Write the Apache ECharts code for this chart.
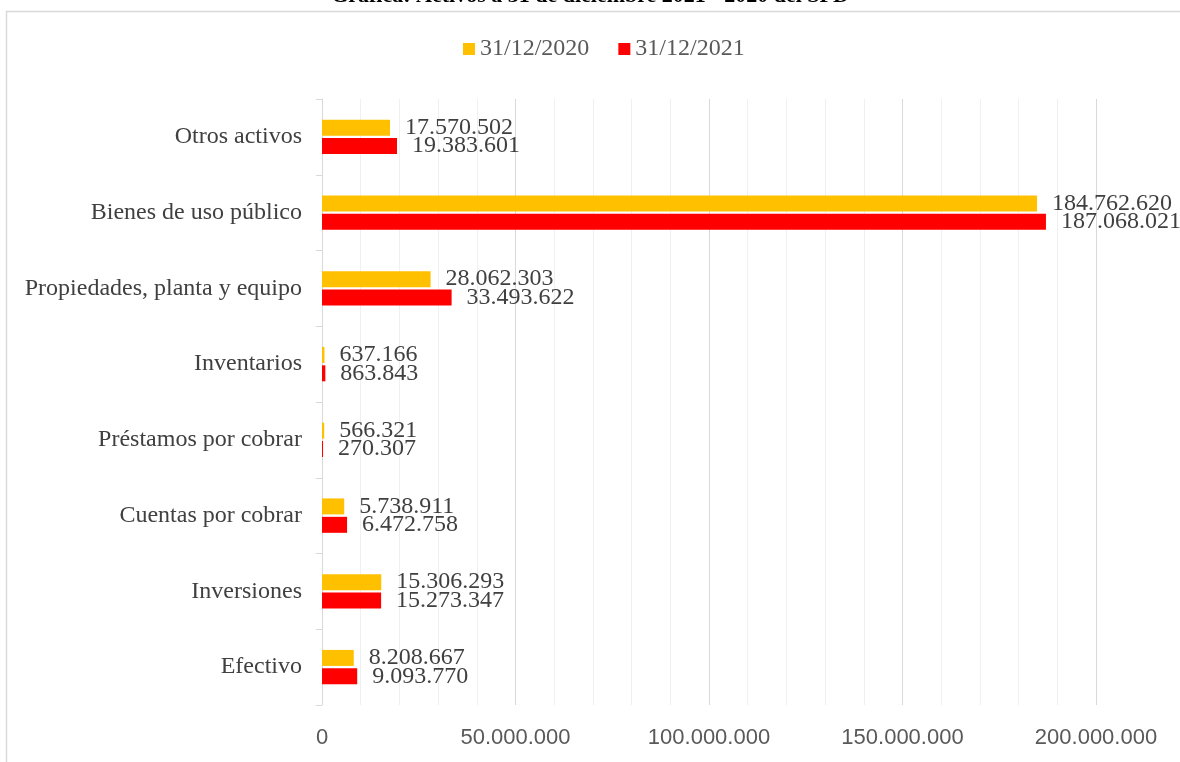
<!DOCTYPE html>
<html><head><meta charset="utf-8">
<script src="https://cdn.jsdelivr.net/npm/echarts@6/dist/echarts.min.js"></script>
<style>html,body{margin:0;padding:0;background:#fff}#c{width:1180px;height:762px}</style>
</head><body><div id="c"></div>
<script>
const categories = ['Efectivo','Inversiones','Cuentas por cobrar','Préstamos por cobrar','Inventarios','Propiedades, planta y equipo','Bienes de uso público','Otros activos'];
const seriesNames = ['31/12/2020','31/12/2021'];
const values2020 = [8208667,15306293,5738911,566321,637166,28062303,184762620,17570502];
const values2021 = [9093770,15273347,6472758,270307,863843,33493622,187068021,19383601];
const titleText = 'Gráfica: Activos a 31 de diciembre 2021 - 2020 del SPD';

function fmt(n){return String(n).replace(/\B(?=(\d{3})+(?!\d))/g,'.');}
const serif = '"Liberation Serif","Times New Roman",serif';
const chart = echarts.init(document.getElementById('c'));
const labelCfg = {show:true,position:'right',distance:15,fontFamily:serif,fontSize:24,color:'#404040',formatter:p=>fmt(p.value)};
chart.setOption({
  animation:false,
  title:{text:titleText,left:'center',top:-20,textStyle:{fontFamily:serif,fontSize:22,fontWeight:'bold',color:'#000'}},
  graphic:[{type:'rect',shape:{x:6.5,y:11.5,width:1300,height:900},style:{fill:'none',stroke:'#d9d9d9',lineWidth:1.5},z:-1}],
  legend:{data:seriesNames,top:32,left:458,itemWidth:12,itemHeight:12,itemGap:29,icon:'rect',
    textStyle:{fontFamily:serif,fontSize:24,color:'#595959'}},
  grid:{left:322,right:84,top:99,bottom:57},
  xAxis:{type:'value',min:0,max:200000000,interval:50000000,
    axisLine:{show:false},axisTick:{show:false},
    axisLabel:{margin:22,fontFamily:'"Liberation Sans",Arial,sans-serif',fontSize:22,color:'#595959',formatter:v=>fmt(v)},
    splitLine:{show:true,lineStyle:{color:'#d9d9d9',width:1}},
    minorTick:{show:false,splitNumber:5},
    minorSplitLine:{show:true,lineStyle:{color:'#f0f0f0',width:1}}},
  yAxis:{type:'category',data:categories,
    axisLine:{show:true,lineStyle:{color:'#d9d9d9',width:1}},
    axisTick:{show:true,length:6,lineStyle:{color:'#d9d9d9'}},
    axisLabel:{margin:20,fontFamily:serif,fontSize:24,color:'#404040'}},
  series:[
    {name:seriesNames[0],type:'bar',data:values2020,barWidth:16,barGap:'15%',itemStyle:{color:'#FFC000'},label:labelCfg},
    {name:seriesNames[1],type:'bar',data:values2021,barWidth:16,barGap:'15%',itemStyle:{color:'#FF0000'},label:labelCfg}
  ]
});
</script></body></html>
